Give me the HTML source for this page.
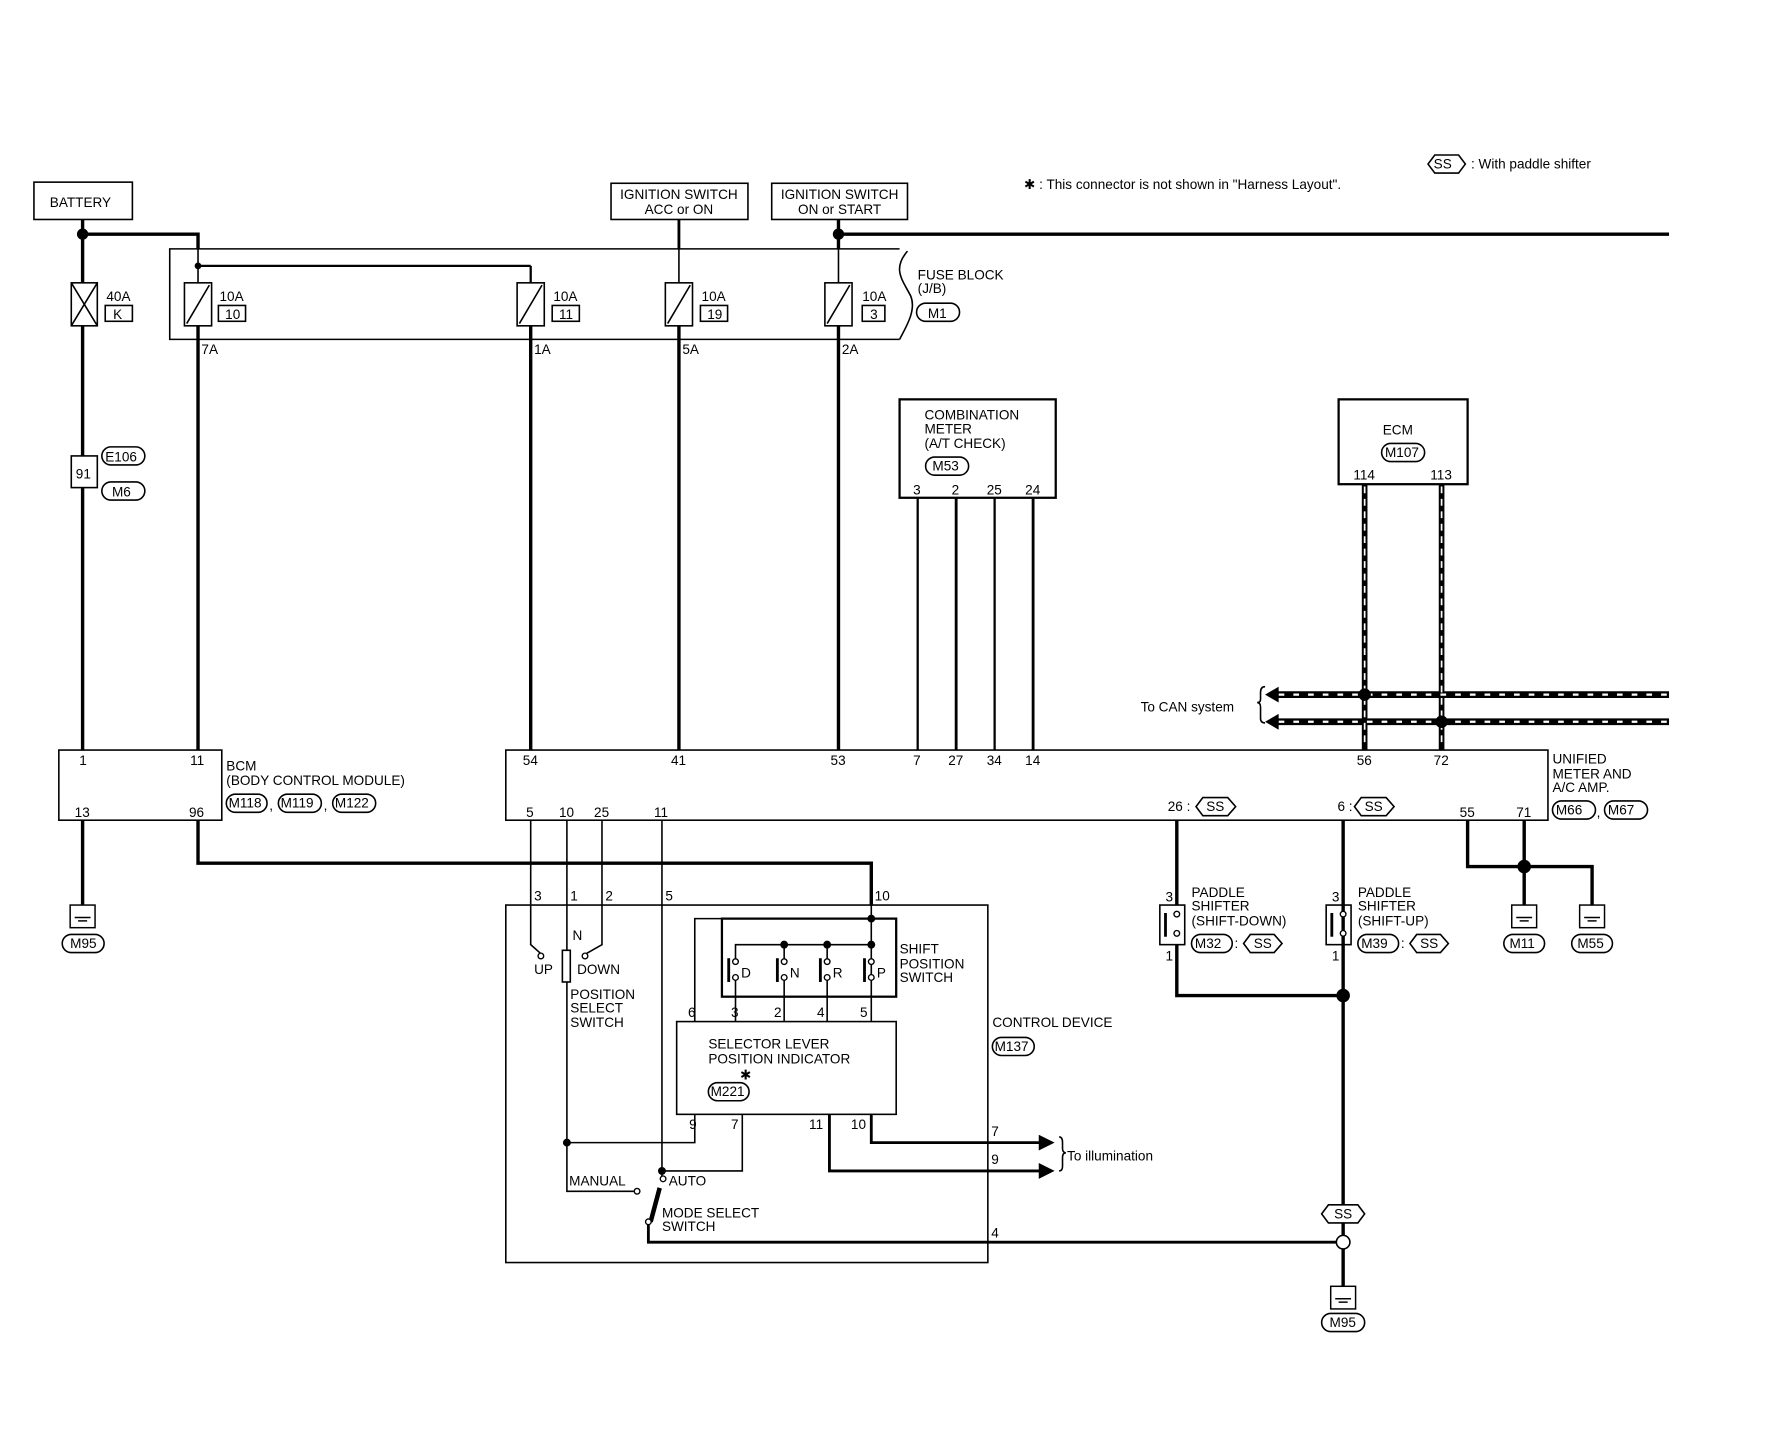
<!DOCTYPE html>
<html><head><meta charset="utf-8"><style>
html,body{margin:0;padding:0;background:#fff;}
svg{display:block}
text{font-family:"Liberation Sans",sans-serif;font-size:12px;fill:#000;}
</style></head><body>
<svg width="1772" height="1456" viewBox="0 0 1566 1287" preserveAspectRatio="none" xmlns="http://www.w3.org/2000/svg">
<defs>
<g id="gnd"><rect x="-11" y="0" width="22" height="20" fill="#fff" stroke="#000" stroke-width="1.3"/><line x1="-7" y1="11" x2="7" y2="11" stroke="#000" stroke-width="1.3"/><line x1="-4" y1="14" x2="4" y2="14" stroke="#000" stroke-width="1.3"/></g>
</defs>
<g fill="none" stroke="#000" stroke-width="3">
<polyline points="73,194 73,663"/>
<polyline points="73,207 175,207 175,220"/>
<line x1="741" y1="194" x2="741" y2="220"/>
<line x1="741" y1="207" x2="1475" y2="207"/>
<line x1="175" y1="288" x2="175" y2="663"/><line x1="469" y1="288" x2="469" y2="663"/>
<line x1="600" y1="288" x2="600" y2="663"/><line x1="741" y1="288" x2="741" y2="663"/>
<line x1="73" y1="725" x2="73" y2="800"/>
<polyline points="175,725 175,763 770,763 770,800"/>
<polyline points="1040,725 1040,800"/><polyline points="1040,835 1040,880 1187,880"/>
<line x1="1187" y1="725" x2="1187" y2="1092"/><line x1="1187" y1="1104" x2="1187" y2="1140"/>
<polyline points="1297,725 1297,766 1407,766 1407,800"/>
<line x1="1347" y1="725" x2="1347" y2="800"/>
<line x1="1206" y1="428" x2="1206" y2="663" stroke-width="5"/><line x1="1274" y1="428" x2="1274" y2="663" stroke-width="5"/>
<line x1="1128" y1="614" x2="1475" y2="614" stroke-width="6"/><line x1="1128" y1="638" x2="1475" y2="638" stroke-width="6"/>
</g>
<g stroke="#fff" stroke-width="1.5" stroke-dasharray="6,5">
<line x1="1206" y1="430" x2="1206" y2="661"/><line x1="1274" y1="430" x2="1274" y2="661"/>
</g>
<g stroke="#fff" stroke-width="2" stroke-dasharray="5,8">
<line x1="1130" y1="614" x2="1475" y2="614"/><line x1="1130" y1="638" x2="1475" y2="638"/>
</g>
<g fill="none" stroke="#000" stroke-width="1.4">
<polygon points="1262,145 1268,137 1289,137 1295,145 1289,153 1268,153"/>
<rect x="30" y="161" width="87" height="33"/>
<rect x="540" y="162" width="121" height="32"/>
<rect x="682" y="162" width="120" height="32"/>
<path d="M795,220 L150,220 L150,300 L795,300"/>
<path d="M802,222 C788,238 798,248 805,262 C810,275 800,290 795,300"/>
<rect x="63" y="250" width="23" height="38" fill="#fff"/><line x1="63" y1="250" x2="86" y2="288"/><line x1="86" y1="250" x2="63" y2="288"/>
<rect x="93" y="270" width="24" height="14"/>
<rect x="163" y="250" width="24" height="38" fill="#fff"/><line x1="165" y1="286" x2="185" y2="252"/><rect x="193" y="270" width="24" height="14"/>
<rect x="457" y="250" width="24" height="38" fill="#fff"/><line x1="459" y1="286" x2="479" y2="252"/><rect x="488" y="270" width="24" height="14"/>
<rect x="588" y="250" width="24" height="38" fill="#fff"/><line x1="590" y1="286" x2="610" y2="252"/><rect x="619" y="270" width="24" height="14"/>
<rect x="729" y="250" width="24" height="38" fill="#fff"/><line x1="731" y1="286" x2="751" y2="252"/><rect x="762" y="270" width="20" height="14"/>
<line x1="175" y1="235" x2="469" y2="235" stroke-width="2"/><line x1="469" y1="235" x2="469" y2="250" stroke-width="2"/>
<line x1="175" y1="220" x2="175" y2="250"/><line x1="600" y1="220" x2="600" y2="250"/><line x1="741" y1="220" x2="741" y2="250"/>
<rect x="63" y="403" width="23" height="28" fill="#fff"/>
<rect x="90" y="395" width="38" height="16" rx="8"/><rect x="90" y="426" width="38" height="16" rx="8"/>
<rect x="810" y="268" width="38" height="16" rx="8"/>
<rect x="795" y="353" width="138" height="87" stroke-width="2"/>
<rect x="818" y="404" width="38" height="16" rx="8"/>
<rect x="1183" y="353" width="114" height="75" stroke-width="2"/>
<rect x="1221" y="392" width="38" height="16" rx="8"/>
<rect x="52" y="663" width="144" height="62"/>
<rect x="200" y="702" width="36" height="16" rx="8"/><rect x="246" y="702" width="38" height="16" rx="8"/><rect x="294" y="702" width="38" height="16" rx="8"/>
<rect x="447" y="663" width="921" height="62"/>
<rect x="1372" y="708" width="38" height="16" rx="8"/><rect x="1418" y="708" width="38" height="16" rx="8"/>
<polygon points="1057,713 1063,705 1085,705 1092,713 1085,721 1063,721"/>
<polygon points="1197,713 1203,705 1225,705 1232,713 1225,721 1203,721"/>
<rect x="447" y="800" width="426" height="316"/>
<rect x="638" y="812" width="154" height="69" stroke-width="2"/>
<rect x="598" y="903" width="194" height="82"/>
<rect x="626" y="957" width="36" height="16" rx="8"/>
<rect x="877" y="917" width="37" height="16" rx="8"/>
<rect x="1025" y="800" width="22" height="35"/><rect x="1172" y="800" width="22" height="35"/>
<line x1="1030" y1="807" x2="1030" y2="828" stroke-width="2.5"/><line x1="1177" y1="807" x2="1177" y2="828" stroke-width="2.5"/>
<rect x="1053" y="826" width="36" height="16" rx="8"/><polygon points="1099,834 1105,826 1126,826 1133,834 1126,842 1105,842"/>
<rect x="1200" y="826" width="36" height="16" rx="8"/><polygon points="1246,834 1252,826 1273,826 1280,834 1273,842 1252,842"/>
<rect x="1329" y="826" width="36" height="16" rx="8"/><rect x="1389" y="826" width="36" height="16" rx="8"/>
<rect x="55" y="826" width="37" height="16" rx="8"/>
<rect x="1168" y="1161" width="38" height="16" rx="8"/>
<polygon points="1168,1073 1174,1065 1200,1065 1206,1073 1200,1081 1174,1081" fill="#fff"/>
<line x1="600" y1="194" x2="600" y2="220" stroke-width="2.5"/>
<line x1="811" y1="440" x2="811" y2="663" stroke-width="2"/><line x1="845" y1="440" x2="845" y2="663" stroke-width="2.5"/>
<line x1="879" y1="440" x2="879" y2="663" stroke-width="2"/><line x1="913" y1="440" x2="913" y2="663" stroke-width="2.5"/>
<polyline points="469,725 469,835 478,843"/>
<polyline points="532,725 532,835 518,843"/>
<line x1="501" y1="725" x2="501" y2="840"/>
<rect x="497" y="840" width="7" height="28"/>
<polyline points="501,868 501,1053 560,1053"/>
<line x1="585" y1="725" x2="585" y2="1043"/>
<polyline points="501,1010 614,1010 614,985"/>
<polyline points="585,1035 656,1035 656,985"/>
<polyline points="770,763 770,812 614,812 614,903"/>
<line x1="770" y1="812" x2="770" y2="903"/>
<polyline points="650,850 650,835 770,835"/>
<line x1="693" y1="835" x2="693" y2="850"/><line x1="731" y1="835" x2="731" y2="850"/>
<line x1="650" y1="865" x2="650" y2="903"/><line x1="693" y1="865" x2="693" y2="903"/><line x1="731" y1="865" x2="731" y2="903"/>
<line x1="644" y1="847" x2="644" y2="868" stroke-width="2.5"/><line x1="687" y1="847" x2="687" y2="868" stroke-width="2.5"/>
<line x1="725" y1="847" x2="725" y2="868" stroke-width="2.5"/><line x1="764" y1="847" x2="764" y2="868" stroke-width="2.5"/>
<polyline points="770,985 770,1010 920,1010" stroke-width="2.5"/>
<polyline points="733,985 733,1035 920,1035" stroke-width="2.5"/>
<path d="M936,1005 q3,0 3,5 v5 q0,4 3,4 q-3,0 -3,4 v8 q0,4 -3,4"/>
<path d="M1118,607 q-4,0 -4,5 v6 q0,3 -3,3 q3,0 3,4 v10 q0,4 4,4"/>
<line x1="575" y1="1080" x2="583" y2="1050" stroke-width="4"/>
<polyline points="573,1082 573,1098 1187,1098" stroke-width="2.5"/>
<circle cx="1187" cy="1098" r="6" fill="#fff"/>
</g>
<g fill="#000">
<polygon points="1118,614 1130,607 1130,621"/><polygon points="1118,638 1130,631 1130,645"/>
<polygon points="932,1010 918,1003 918,1017"/><polygon points="932,1035 918,1028 918,1042"/>
<circle cx="73" cy="207" r="5"/><circle cx="741" cy="207" r="5"/><circle cx="175" cy="235" r="3"/>
<circle cx="1206" cy="614" r="5.5"/><circle cx="1274" cy="638" r="5.5"/>
<circle cx="770" cy="812" r="3.5"/><circle cx="693" cy="835" r="3.5"/><circle cx="731" cy="835" r="3.5"/><circle cx="770" cy="835" r="3.5"/>
<circle cx="501" cy="1010" r="3.5"/><circle cx="585" cy="1035" r="3.5"/>
<circle cx="1187" cy="880" r="6"/><circle cx="1347" cy="766" r="6"/>
</g>
<g fill="#fff" stroke="#000" stroke-width="1.2">
<circle cx="478" cy="845" r="2.5"/><circle cx="517" cy="845" r="2.5"/>
<circle cx="563" cy="1053" r="2.5"/><circle cx="586" cy="1042" r="2.5"/><circle cx="573" cy="1080" r="2.5"/>
<circle cx="650" cy="850" r="2.5"/><circle cx="650" cy="864" r="2.5"/>
<circle cx="693" cy="850" r="2.5"/><circle cx="693" cy="864" r="2.5"/>
<circle cx="731" cy="850" r="2.5"/><circle cx="731" cy="864" r="2.5"/>
<circle cx="770" cy="850" r="2.5"/><circle cx="770" cy="864" r="2.5"/>
<circle cx="1040" cy="808" r="2.5"/><circle cx="1040" cy="825" r="2.5"/>
<circle cx="1187" cy="808" r="2.5"/><circle cx="1187" cy="825" r="2.5"/>
</g>
<use href="#gnd" x="73" y="800"/><use href="#gnd" x="1347" y="800"/><use href="#gnd" x="1407" y="800"/><use href="#gnd" x="1187" y="1137"/>
<text x="1267" y="149" font-size="11">SS</text><text x="1300" y="149">: With paddle shifter</text>
<text x="905" y="167">✱ : This connector is not shown in "Harness Layout".</text>
<text x="44" y="183" font-size="13">BATTERY</text>
<text x="600" y="176" text-anchor="middle">IGNITION SWITCH</text><text x="600" y="189" text-anchor="middle">ACC or ON</text>
<text x="742" y="176" text-anchor="middle">IGNITION SWITCH</text><text x="742" y="189" text-anchor="middle">ON or START</text>
<text x="94" y="266">40A</text><text x="100" y="282">K</text>
<text x="194" y="266">10A</text><text x="199" y="282">10</text>
<text x="489" y="266">10A</text><text x="494" y="282">11</text>
<text x="620" y="266">10A</text><text x="625" y="282">19</text>
<text x="762" y="266">10A</text><text x="769" y="282">3</text>
<text x="811" y="247">FUSE BLOCK</text><text x="811" y="259">(J/B)</text><text x="820" y="281" font-size="11">M1</text>
<text x="178" y="313">7A</text><text x="472" y="313">1A</text><text x="603" y="313">5A</text><text x="744" y="313">2A</text>
<text x="67" y="423">91</text><text x="93" y="408" font-size="11">E106</text><text x="99" y="439" font-size="11">M6</text>
<text x="817" y="371">COMBINATION</text><text x="817" y="383">METER</text><text x="817" y="396">(A/T CHECK)</text>
<text x="824" y="416" font-size="11">M53</text>
<text x="807" y="437">3</text><text x="841" y="437">2</text><text x="872" y="437">25</text><text x="906" y="437">24</text>
<text x="1222" y="384">ECM</text><text x="1224" y="404" font-size="11">M107</text>
<text x="1196" y="424">114</text><text x="1264" y="424">113</text>
<text x="1008" y="629">To CAN system</text>
<text x="70" y="676">1</text><text x="168" y="676">11</text><text x="66" y="722">13</text><text x="167" y="722">96</text>
<text x="200" y="681">BCM</text><text x="200" y="694">(BODY CONTROL MODULE)</text>
<text x="202" y="714" font-size="11">M118</text><text x="238" y="716">,</text><text x="248" y="714" font-size="11">M119</text><text x="286" y="716">,</text><text x="296" y="714" font-size="11">M122</text>
<text x="462" y="676">54</text><text x="593" y="676">41</text><text x="734" y="676">53</text><text x="807" y="676">7</text><text x="838" y="676">27</text><text x="872" y="676">34</text><text x="906" y="676">14</text><text x="1199" y="676">56</text><text x="1267" y="676">72</text>
<text x="465" y="722">5</text><text x="494" y="722">10</text><text x="525" y="722">25</text><text x="578" y="722">11</text>
<text x="1032" y="717">26 :</text><text x="1066" y="717" font-size="11">SS</text>
<text x="1182" y="717">6 :</text><text x="1206" y="717" font-size="11">SS</text>
<text x="1290" y="722">55</text><text x="1340" y="722">71</text>
<text x="1372" y="675">UNIFIED</text><text x="1372" y="688">METER AND</text><text x="1372" y="700">A/C AMP.</text>
<text x="1375" y="720" font-size="11">M66</text><text x="1411" y="722">,</text><text x="1421" y="720" font-size="11">M67</text>
<text x="62" y="838" font-size="11">M95</text>
<text x="472" y="796">3</text><text x="504" y="796">1</text><text x="535" y="796">2</text><text x="588" y="796">5</text><text x="773" y="796">10</text>
<text x="506" y="831">N</text><text x="472" y="861">UP</text><text x="510" y="861">DOWN</text>
<text x="504" y="883">POSITION</text><text x="504" y="895">SELECT</text><text x="504" y="908">SWITCH</text>
<text x="655" y="864">D</text><text x="698" y="864">N</text><text x="736" y="864">R</text><text x="775" y="864">P</text>
<text x="795" y="843">SHIFT</text><text x="795" y="856">POSITION</text><text x="795" y="868">SWITCH</text>
<text x="608" y="899">6</text><text x="646" y="899">3</text><text x="684" y="899">2</text><text x="722" y="899">4</text><text x="760" y="899">5</text>
<text x="626" y="927">SELECTOR LEVER</text><text x="626" y="940">POSITION INDICATOR</text>
<text x="654" y="954" font-size="11">✱</text><text x="628" y="969" font-size="11">M221</text>
<text x="877" y="908">CONTROL DEVICE</text><text x="879" y="929" font-size="11">M137</text>
<text x="609" y="998">9</text><text x="646" y="998">7</text><text x="715" y="998">11</text><text x="752" y="998">10</text>
<text x="876" y="1004">7</text><text x="876" y="1029">9</text><text x="943" y="1026">To illumination</text>
<text x="503" y="1048">MANUAL</text><text x="591" y="1048">AUTO</text>
<text x="585" y="1076">MODE SELECT</text><text x="585" y="1088">SWITCH</text>
<text x="876" y="1094">4</text>
<text x="1030" y="797">3</text><text x="1030" y="849">1</text><text x="1177" y="797">3</text><text x="1177" y="849">1</text>
<text x="1053" y="793">PADDLE</text><text x="1053" y="805">SHIFTER</text><text x="1053" y="818">(SHIFT-DOWN)</text>
<text x="1056" y="838" font-size="11">M32</text><text x="1091" y="838">:</text><text x="1108" y="838" font-size="11">SS</text>
<text x="1200" y="793">PADDLE</text><text x="1200" y="805">SHIFTER</text><text x="1200" y="818">(SHIFT-UP)</text>
<text x="1203" y="838" font-size="11">M39</text><text x="1238" y="838">:</text><text x="1255" y="838" font-size="11">SS</text>
<text x="1334" y="838" font-size="11">M11</text><text x="1394" y="838" font-size="11">M55</text>
<text x="1179" y="1077" font-size="11">SS</text>
<text x="1175" y="1173" font-size="11">M95</text>
</svg>
</body></html>
